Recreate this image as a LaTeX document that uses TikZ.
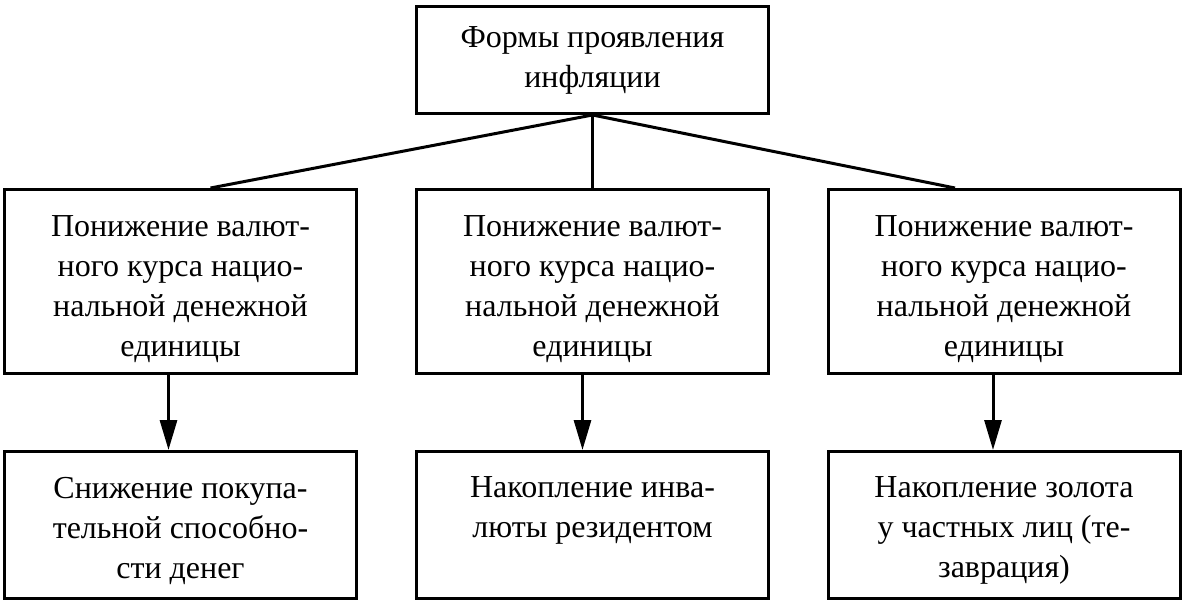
\documentclass[tikz,border=0pt]{standalone}
\usepackage{fontspec}
\setmainfont{Liberation Serif}
\usetikzlibrary{arrows.meta}
\newcommand\lowtext[1]{\parbox[c][96pt][t]{350pt}{\centering #1}}
\newcommand\midtext{\parbox[c][150pt][c]{350pt}{\centering\vspace*{16pt}Понижение валют-\\ного курса нацио-\\нальной денежной\\единицы}}
\tikzset{
  box/.style={draw, line width=3pt, minimum width=352pt, inner sep=0pt, align=center, font=\fontsize{32}{40}\selectfont},
  link/.style={line width=3pt},
  arr/.style={line width=3pt, -{Triangle[length=30pt,width=17pt]}}
}
\begin{document}
\begin{tikzpicture}[x=1pt,y=-1pt]
\useasboundingbox (0,0) rectangle (1184,604);

\node [box, minimum height=107pt] (top) at (592.5,60) {Формы проявления\\инфляции};

\node [box, minimum height=184pt] (midl) at (180.5,281.5) {\midtext};
\node [box, minimum height=184pt] (midc) at (592.5,281.5) {\midtext};
\node [box, minimum height=184pt] (midr) at (1004,281.5) {\midtext};

\node [box, minimum height=147pt] (lowl) at (180.5,525) {\lowtext{Снижение покупа-\\тельной способно-\\сти денег}};
\node [box, minimum height=147pt] (lowc) at (592.5,525) {\lowtext{Накопление инва-\\люты резидентом}};
\node [box, minimum height=147pt] (lowr) at (1004,525) {\lowtext{Накопление золота\\у частных лиц (те-\\заврация)}};

\draw [link] (top.south) -- ([xshift=30pt]midl.north);
\draw [link] (top.south) -- (midc.north -| top.south);
\draw [link] (top.south) -- ([xshift=-49pt]midr.north);

\draw [arr] ([xshift=-12pt]midl.south) -- ([xshift=-12pt]lowl.north);
\draw [arr] ([xshift=-10pt]midc.south) -- ([xshift=-10pt]lowc.north);
\draw [arr] ([xshift=-11pt]midr.south) -- ([xshift=-11pt]lowr.north);

\end{tikzpicture}
\end{document}
